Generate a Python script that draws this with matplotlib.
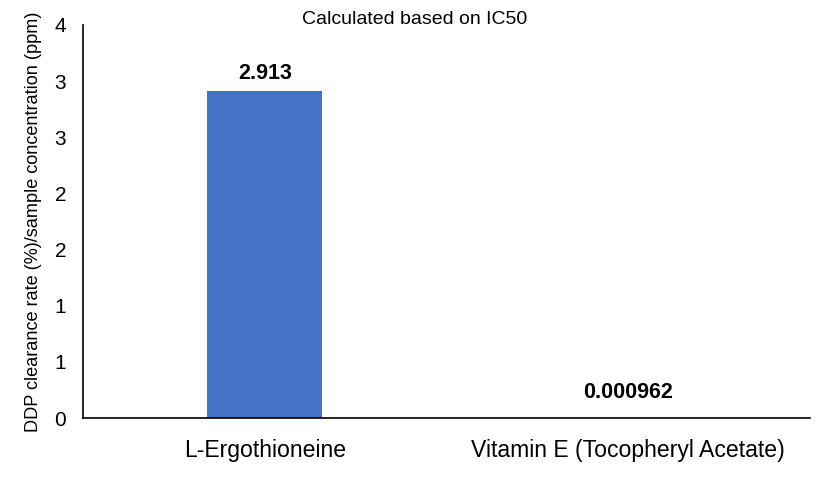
import matplotlib
matplotlib.use("Agg")
from matplotlib import pyplot as plt

samples = ["L-Ergothioneine", "Vitamin E (Tocopheryl Acetate)"]
values = [2.913, 0.000962]
value_labels = ["2.913", "0.000962"]
y_ticks = [0, 0.5, 1, 1.5, 2, 2.5, 3, 3.5]
y_tick_labels = ["0", "1", "1", "2", "2", "3", "3", "4"]

plt.rcParams["font.family"] = ["Liberation Sans", "DejaVu Sans"]

fig = plt.figure(figsize=(8.35, 4.8), dpi=100)
ax = fig.add_axes([83 / 835, 62 / 480, 727 / 835, 393 / 480])

x = range(len(samples))
ax.bar(x, values, width=0.315, color="#4472C4")
ax.set_xlim(-0.5, 1.5)
ax.set_ylim(0, 3.5)

# Excel puts the tiny value's label higher above the axis
offsets = [5, 11]
for i, (v, lab) in enumerate(zip(values, value_labels)):
    ax.annotate(lab, (i, v), xytext=(0, offsets[i]), textcoords="offset points",
                ha="center", va="bottom", fontsize=15.5, fontweight="bold",
                bbox=dict(boxstyle="square,pad=0.1", fc="white", ec="none"))

ax.set_xticks(list(x))
ax.set_xticklabels(samples, fontsize=16.6)
ax.set_yticks(y_ticks)
ax.set_yticklabels(y_tick_labels, fontsize=15)
ax.tick_params(length=0)
ax.tick_params(axis="x", pad=15)
ax.tick_params(axis="y", pad=12)

ax.spines["top"].set_visible(False)
ax.spines["right"].set_visible(False)
ax.spines["left"].set_linewidth(1.2)
ax.spines["bottom"].set_linewidth(1.2)

ax.set_ylabel("DDP clearance rate (%)/sample concentration (ppm)", fontsize=13.1, labelpad=9)
fig.text(415 / 835, 1 - 20 / 480, "Calculated based on IC50", ha="center", va="center", fontsize=14)

fig.savefig("out.png", dpi=100)
